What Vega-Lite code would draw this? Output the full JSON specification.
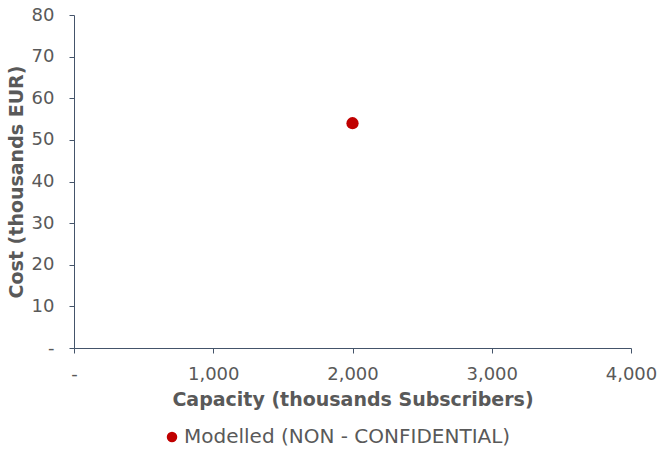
{
  "$schema": "https://vega.github.io/schema/vega-lite/v6.json",
  "width": 557,
  "height": 333,
  "autosize": {"type": "none"},
  "padding": {"left": 74, "top": 15, "right": 31, "bottom": 102},
  "background": "white",
  "config": {
    "view": {"stroke": null},
    "font": "DejaVu Sans"
  },
  "data": {
    "values": [
      {"capacity": 2000, "cost": 54, "series": "Modelled (NON - CONFIDENTIAL)"}
    ]
  },
  "mark": {"type": "point", "filled": true, "size": 150, "opacity": 1},
  "encoding": {
    "x": {
      "field": "capacity",
      "type": "quantitative",
      "scale": {"domain": [0, 4000], "nice": false, "zero": true},
      "axis": {
        "values": [0, 1000, 2000, 3000, 4000],
        "labelExpr": "datum.value == 0 ? '-' : format(datum.value, ',')",
        "title": "Capacity (thousands Subscribers)",
        "titleFont": "DejaVu Sans",
        "titleFontSize": 19,
        "titleFontWeight": "bold",
        "titleColor": "#595959",
        "titlePadding": 7,
        "labelFontSize": 18,
        "labelColor": "#595959",
        "labelPadding": 12,
        "labelFlush": false,
        "grid": false,
        "domainColor": "#44546A",
        "tickColor": "#44546A",
        "tickSize": 5
      }
    },
    "y": {
      "field": "cost",
      "type": "quantitative",
      "scale": {"domain": [0, 80], "nice": false},
      "axis": {
        "values": [0, 10, 20, 30, 40, 50, 60, 70, 80],
        "labelExpr": "datum.value == 0 ? '-' : format(datum.value, ',')",
        "title": "Cost (thousands EUR)",
        "titleFont": "DejaVu Sans",
        "titleFontSize": 19,
        "titleFontWeight": "bold",
        "titleColor": "#595959",
        "titlePadding": 5,
        "labelFontSize": 18,
        "labelColor": "#595959",
        "labelPadding": 15,
        "labelFlush": false,
        "grid": false,
        "domainColor": "#44546A",
        "tickColor": "#44546A",
        "tickSize": 5
      }
    },
    "color": {
      "field": "series",
      "type": "nominal",
      "scale": {"range": ["#C00000"]},
      "legend": {
        "orient": "none",
        "legendX": 88,
        "legendY": 412,
        "direction": "horizontal",
        "title": null,
        "labelFontSize": 20,
        "labelLimit": 500,
        "labelColor": "#595959",
        "symbolType": "circle",
        "symbolSize": 110,
        "labelOffset": 2
      }
    }
  }
}
